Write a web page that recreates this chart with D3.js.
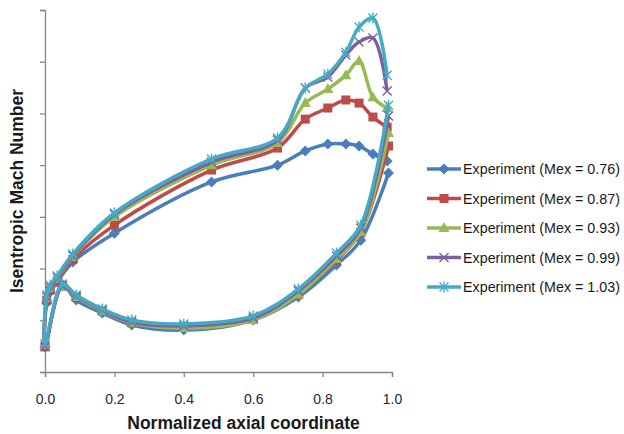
<!DOCTYPE html>
<html>
<head>
<meta charset="utf-8">
<script src="https://cdn.jsdelivr.net/npm/d3@7"></script>
<style>
  html, body { margin: 0; padding: 0; background: #fff; overflow: hidden; }
  svg { display: block; }
  text { font-family: "Liberation Sans", Arial, sans-serif; }
</style>
</head>
<body>
<div id="viz"></div>
<script>
// marker positions along the blade (suction side runs TE -> LE, then pressure side LE -> TE)
const suctionX = [0.986, 0.945, 0.905, 0.867, 0.815, 0.75, 0.67, 0.48, 0.2, 0.08, 0.035, 0.015, 0.005];
const pressureX = [0.0, 0.05, 0.09, 0.165, 0.25, 0.4, 0.6, 0.73, 0.84, 0.91, 0.99];

const seriesNames = [
    "Experiment (Mex = 0.76)",
    "Experiment (Mex = 0.87)",
    "Experiment (Mex = 0.93)",
    "Experiment (Mex = 0.99)",
    "Experiment (Mex = 1.03)"
];

const suction076 = [0.816, 0.843, 0.874, 0.882, 0.882, 0.855, 0.80, 0.735, 0.537, 0.425, 0.348, 0.309, 0.267];
const pressure076 = [0.097, 0.336, 0.278, 0.228, 0.182, 0.162, 0.201, 0.29, 0.414, 0.51, 0.77];

const suction087 = [0.947, 0.986, 1.040, 1.052, 1.021, 0.978, 0.866, 0.781, 0.568, 0.435, 0.352, 0.317, 0.278];
const pressure087 = [0.097, 0.336, 0.29, 0.236, 0.19, 0.174, 0.205, 0.30, 0.433, 0.541, 0.874];

const suction093 = [1.021, 1.063, 1.203, 1.148, 1.094, 1.040, 0.886, 0.80, 0.60, 0.445, 0.36, 0.325, 0.286];
const pressure093 = [0.104, 0.329, 0.29, 0.236, 0.19, 0.17, 0.201, 0.30, 0.437, 0.541, 0.924];

const suction099 = [1.087, 1.292, 1.276, 1.226, 1.141, 1.098, 0.897, 0.812, 0.61, 0.449, 0.364, 0.329, 0.29];
const pressure099 = [0.10, 0.333, 0.294, 0.24, 0.193, 0.178, 0.209, 0.313, 0.449, 0.557, 0.99];

const suction103 = [1.148, 1.369, 1.334, 1.237, 1.152, 1.098, 0.905, 0.824, 0.615, 0.456, 0.371, 0.336, 0.298];
const pressure103 = [0.108, 0.34, 0.298, 0.244, 0.201, 0.186, 0.217, 0.321, 0.46, 0.568, 1.032];

const xTicks = [0, 0.2, 0.4, 0.6, 0.8, 1.0];
const yTicks = [0, 0.2, 0.4, 0.6, 0.8, 1.0, 1.2, 1.4];

const colors = ["#4a7ebb", "#be4b48", "#98b954", "#7d60a0", "#46aac5"];
const markers = ["diamond", "square", "triangle", "x", "star"];

const width = 624;
const height = 434;

const svg = d3.select("#viz")
    .append("svg")
    .attr("width", width)
    .attr("height", height);

const margin = {top: 10, left: 45, right: 232, bottom: 62};
const innerWidth = width - margin.left - margin.right;
const innerHeight = height - margin.top - margin.bottom;

const xScale = d3.scaleLinear().domain([0, 1]).range([0, innerWidth]);
const yScale = d3.scaleLinear().domain([0, 1.4]).range([innerHeight, 0]);

const g = svg.append("g")
    .attr("transform", `translate(${margin.left}, ${margin.top})`);

// axes (y axis has tick marks only, no labels)
const yAxis = g.append("g")
    .call(d3.axisLeft(yScale).tickValues(yTicks).tickSize(5));
yAxis.selectAll(".tick text").remove();
const xAxis = g.append("g")
    .attr("transform", `translate(0, ${innerHeight})`)
    .call(d3.axisBottom(xScale).tickValues(xTicks).tickSize(5).tickPadding(17).tickFormat(d3.format(".1f")));

[xAxis, yAxis].forEach(ax => {
    ax.select(".domain").attr("stroke", "#868686").attr("stroke-width", 1.3);
    ax.selectAll(".tick line").attr("stroke", "#868686").attr("stroke-width", 1.3);
});
xAxis.selectAll(".tick text")
    .attr("font-size", 14)
    .attr("fill", "#262626");

// axis titles
svg.append("text")
    .attr("x", margin.left + innerWidth / 2 + 25)
    .attr("y", 429)
    .attr("text-anchor", "middle")
    .attr("font-size", 17.5)
    .attr("font-weight", "bold")
    .attr("fill", "#1a1a1a")
    .text("Normalized axial coordinate");

svg.append("text")
    .attr("transform", `translate(23, ${margin.top + innerHeight / 2}) rotate(-90)`)
    .attr("text-anchor", "middle")
    .attr("font-size", 17.5)
    .attr("font-weight", "bold")
    .attr("fill", "#1a1a1a")
    .text("Isentropic Mach Number");

// build each series: suction side then pressure side, one continuous line
const allSeries = [
    [suction076, pressure076],
    [suction087, pressure087],
    [suction093, pressure093],
    [suction099, pressure099],
    [suction103, pressure103]
].map(([s, p]) =>
    suctionX.map((x, i) => ({x: x, y: s[i]}))
        .concat(pressureX.map((x, i) => ({x: x, y: p[i]})))
);

const line = d3.line()
    .x(d => xScale(d.x))
    .y(d => yScale(d.y))
    .curve(d3.curveCatmullRom.alpha(0.5));

const drawMarker = (sel, type, color) => {
    if (type === "diamond") {
        sel.append("path").attr("d", "M0,-5.5L5.5,0L0,5.5L-5.5,0Z").attr("fill", color);
    } else if (type === "square") {
        sel.append("rect").attr("x", -4.5).attr("y", -4.5).attr("width", 9).attr("height", 9).attr("fill", color);
    } else if (type === "triangle") {
        sel.append("path").attr("d", "M0,-6L5.5,4L-5.5,4Z").attr("fill", color);
    } else if (type === "x") {
        sel.append("path").attr("d", "M-4.5,-4.5L4.5,4.5M-4.5,4.5L4.5,-4.5")
            .attr("stroke", color).attr("stroke-width", 1.4).attr("fill", "none");
    } else {
        sel.append("path").attr("d", "M-4.5,-4.5L4.5,4.5M-4.5,4.5L4.5,-4.5M0,-5.5L0,5.5")
            .attr("stroke", color).attr("stroke-width", 1.4).attr("fill", "none");
    }
};

allSeries.forEach((data, k) => {
    const sg = g.append("g");
    sg.append("path")
        .datum(data)
        .attr("d", line)
        .attr("fill", "none")
        .attr("stroke", colors[k])
        .attr("stroke-width", 3.5)
        .attr("stroke-linejoin", "round");
    sg.selectAll("g.mk").data(data)
        .enter().append("g")
            .attr("class", "mk")
            .attr("transform", d => `translate(${xScale(d.x)}, ${yScale(d.y)})`)
            .each(function () { drawMarker(d3.select(this), markers[k], colors[k]); });
});

// legend
const legend = svg.append("g").attr("transform", "translate(427, 169)");
seriesNames.forEach((name, k) => {
    const row = legend.append("g").attr("transform", `translate(0, ${k * 29.5})`);
    row.append("line")
        .attr("x1", 0).attr("x2", 34)
        .attr("stroke", colors[k]).attr("stroke-width", 3.5);
    const m = row.append("g").attr("transform", "translate(17, 0)");
    drawMarker(m, markers[k], colors[k]);
    row.append("text")
        .attr("x", 36)
        .attr("y", 5)
        .attr("font-size", 14.3)
        .attr("fill", "#1a1a1a")
        .text(name);
});
</script>
</body>
</html>
